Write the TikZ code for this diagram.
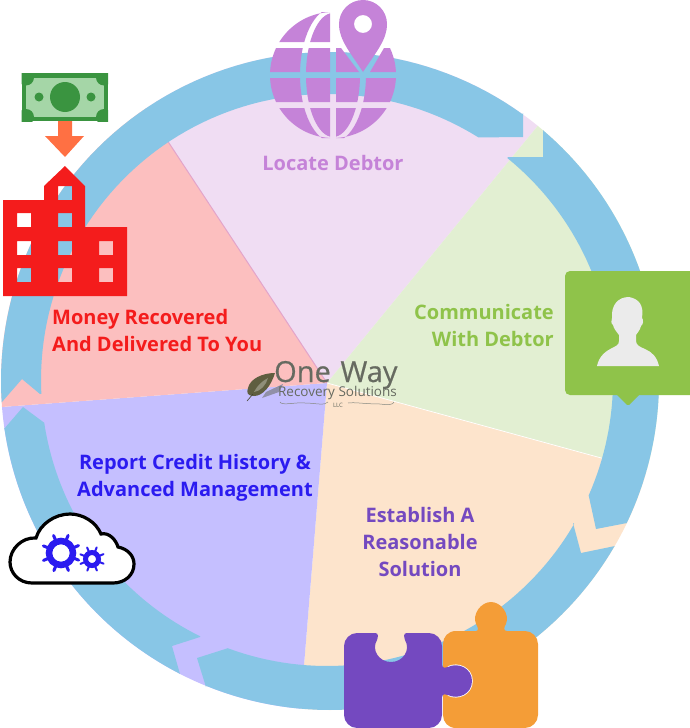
\documentclass[tikz,border=0pt]{standalone}
\usepackage{fontspec}
\setmainfont{Open Sans}
\newfontfamily\logofont[FakeBold=0.5]{Open Sans}
\definecolor{ringc}{HTML}{88C6E6}
\definecolor{slA}{HTML}{F0DDF3}
\definecolor{slB}{HTML}{E2EFD2}
\definecolor{slC}{HTML}{FDE4CC}
\definecolor{slD}{HTML}{C5BFFF}
\definecolor{slE}{HTML}{FCBFBF}
\definecolor{txA}{HTML}{C583D8}
\definecolor{txB}{HTML}{8FC34A}
\definecolor{txC}{HTML}{7449C0}
\definecolor{txD}{HTML}{2B1BF0}
\definecolor{txE}{HTML}{F41C1C}
\definecolor{moneyd}{HTML}{3A9440}
\definecolor{moneyl}{HTML}{A5D6A7}
\definecolor{arrowc}{HTML}{FF7043}
\definecolor{orangep}{HTML}{F49D37}
\definecolor{logoc}{HTML}{666A60}
\definecolor{leafc}{HTML}{5F5E40}
\tikzset{
  seg/.style={fill=ringc,draw=none},
  lab/.style={font=\bfseries\fontsize{20}{27}\selectfont,inner sep=0pt},
  logotext/.style={inner sep=0pt,anchor=base,text=logoc},
}
\begin{document}
\begin{tikzpicture}[x=1pt,y=-1pt]
\useasboundingbox (0,0) rectangle (690,728);
\coordinate (C) at (327,383);
% slices
\begin{scope}
\clip (330,381) circle (329);
\fill[slA] (C) -- (55,-30) -- (663,-27) -- cycle;
\fill[slB] (C) -- (663,-27) -- (760,-27) -- (760,488) -- (711,488) -- cycle;
\fill[slC] (C) -- (711,488) -- (760,488) -- (760,776) -- (295,776) -- cycle;
\fill[slD] (C) -- (295,776) -- (-94,776) -- (-94,414) -- cycle;
\fill[slE] (C) -- (-94,414) -- (-94,-30) -- (55,-30) -- cycle;
\draw[white,line width=0.7] (C) -- (711,488);
\draw[color=txA!45!slE,line width=1] (C) -- (167,140);
\end{scope}
% ring segments
\fill[seg] (2,402) -- (22,379) -- (40,394)
  -- plot[domain=177.2:302,samples=70] ({327+286*cos(\x)},{380+286*sin(\x)})
  -- (523,137) -- (523,113)
  -- plot[domain=305.8:176.3,samples=70] ({330+329*cos(\x)},{381+329*sin(\x)}) -- cycle;
\fill[seg] (543,130) -- (543,157) -- (508,157)
  -- plot[domain=-50.9:23.8,samples=50] ({327+286*cos(\x)},{380+286*sin(\x)})
  -- (596,529) -- (627,523)
  -- plot[domain=25.6:-49.7,samples=50] ({330+329*cos(\x)},{381+329*sin(\x)}) -- cycle;
\fill[seg] (615,546) -- (581,553) -- (573,523)
  -- plot[domain=30.2:110.3,samples=50] ({327+286*cos(\x)},{380+286*sin(\x)})
  -- (197,658) -- (206,687)
  -- plot[domain=112.1:30.1,samples=50] ({330+329*cos(\x)},{381+329*sin(\x)}) -- cycle;
\fill[seg] (180,674) -- (172,646) -- (200,637)
  -- plot[domain=116.3:171.4,samples=40] ({327+286*cos(\x)},{380+286*sin(\x)})
  -- (23,407) -- (4,429)
  -- plot[domain=171.6:117.1,samples=40] ({330+329*cos(\x)},{381+329*sin(\x)}) -- cycle;
% labels
\node[lab,text=txA] (locate) at (333,163) {Locate Debtor};
\node[lab,text=txB,align=right,anchor=east] (comm) at (554,325) {Communicate\\With Debtor};
\node[lab,text=txC,align=center] (estab) at (420,541.5) {Establish A\\Reasonable\\Solution};
\node[lab,text=txD,align=center] (report) at (195,477.5) {Report Credit History \&\\Advanced Management};
\node[lab,text=txE,align=left,anchor=west] (money) at (52,330) {Money Recovered\\And Delivered To You};
% logo
\fill[color=logoc!55!slD] (266,392) -- (283,384) -- (279,392) -- (262,398) -- cycle;
\fill[leafc] (275,373) .. controls (262,373) and (250,379) .. (248,388) .. controls (246,393) and (248,396) .. (254,396)
  .. controls (263,396) and (271,386) .. (275,373) -- cycle;
\fill[leafc!70!white] (268,378) .. controls (262,381) and (257,386) .. (254,392) .. controls (261,391) and (266,385) .. (268,378) -- cycle;
\draw[leafc!70!black,line width=0.6] (253,394) -- (247,401);
\node[logotext,font=\logofont\fontsize{29}{29}\selectfont] (one) at (302.5,382) {One};
\node[logotext,font=\logofont\fontsize{29}{29}\selectfont] (way) at (369,382) {Way};
\node[logotext,font=\fontsize{13.5}{14}\selectfont] (recov) at (337.5,396.5) {Recovery Solutions};
\node[logotext,font=\fontsize{6}{6}\selectfont] (llc) at (338,407) {LLC};
\draw[logoc!80!white,line width=0.5] (280,402) .. controls (282,406) and (295,402) .. (305,403) .. controls (315,403) and (325,406) .. (328,402);
\draw[logoc!80!white,line width=0.5] (348,403) .. controls (355,402) and (365,404) .. (380,404) .. controls (388,405) and (393,405) .. (394,402);
% globe
\begin{scope}
\clip (270,12) rectangle (330,42) (270,48) rectangle (330,72) (336,48) -- (341,48) -- (359,72) -- (336,72) -- cycle
  (384,48) -- (396,48) -- (396,72) -- (370,72) -- cycle
  (270,78) rectangle (330,102) (336,78) rectangle (396,102) (270,108) rectangle (330,138) (336,108) rectangle (396,138);
\fill[txA,even odd rule] (333,75) circle (63) (333,75) ellipse [x radius=33,y radius=67];
\fill[txA] (333,75) ellipse [x radius=27,y radius=62];
\end{scope}
\fill[txA,even odd rule] (363,72) .. controls (350,52) and (339,40) .. (339,24) .. controls (339,10.7) and (349.7,0) .. (363,0)
  .. controls (376.3,0) and (387,10.7) .. (387,24) .. controls (387,40) and (376,52) .. (363,72) -- cycle
  (363,24) circle (9);
% money
\fill[moneyd] (21.5,73) rectangle (108,121);
\fill[moneyl] (26,77.5) rectangle (104,117);
\begin{scope}
\clip (21.5,73) rectangle (108,121);
\fill[moneyd] (26,77.5) circle (8) (104,77.5) circle (8) (26,117) circle (8) (104,117) circle (8);
\end{scope}
\fill[moneyd] (65,97) circle (15) (39,97) circle (4.5) (91,97) circle (4.5);
\fill[arrowc] (58,121) -- (72,121) -- (72,136) -- (84,136) -- (65,157) -- (45,136) -- (58,136) -- cycle;
% building
\fill[txE,even odd rule] (3,200) -- (44,200) -- (44,186) -- (65,166) -- (85,186) -- (85,227) -- (127,227) -- (127,296) -- (3,296) -- cycle
  (58,186) rectangle (72,200)
  (17,213) rectangle (31,227) (58,213) rectangle (72,227)
  (17,241) rectangle (31,255) (58,241) rectangle (72,255) (99,241) rectangle (113,255)
  (17,268) rectangle (31,282) (58,268) rectangle (72,282) (99,268) rectangle (113,282);
% person card
\fill[txB,rounded corners=5] (565,271) rectangle (695,395);
\fill[txB,rounded corners=1.5] (616,394) -- (628,406) -- (640,394) -- cycle;
\fill[color=black!8] (597,366) .. controls (599,356) and (606,351) .. (612,348) .. controls (616,346) and (619,345) .. (619,341)
  -- (619,335) .. controls (616,331) and (614,329) .. (613,325) .. controls (611,324) and (611,320) .. (612,318)
  .. controls (611,305) and (618,297) .. (629,297) .. controls (639,299) and (644,305) .. (642,318)
  .. controls (644,320) and (643,325) .. (641,326) .. controls (640,330) and (638,332) .. (636,335)
  -- (636,341) .. controls (636,345) and (640,347) .. (645,349) .. controls (652,352) and (657,357) .. (659,366) -- cycle;
% puzzle
\fill[orangep] (456,631) -- (476,631) .. controls (479,631) and (478,627) .. (476,624) .. controls (472,614) and (481,602) .. (491,602)
  .. controls (501,602) and (510,614) .. (506,624) .. controls (504,627) and (503,631) .. (507,631) -- (525,631)
  .. controls (532,631) and (538,637) .. (538,644) -- (538,715) .. controls (538,722) and (532,728) .. (525,728) -- (456,728)
  .. controls (448,728) and (443,722) .. (443,715) -- (443,644) .. controls (443,637) and (448,631) .. (456,631) -- cycle;
\draw[white,line width=1.6] (448,667) .. controls (458,662) and (472,668) .. (472,681) .. controls (472,694) and (458,700) .. (448,695);
\fill[txC] (357,633) -- (375,633) .. controls (379,633) and (378,637) .. (377,640) .. controls (371,650) and (379,662) .. (391,662)
  .. controls (403,662) and (411,650) .. (405,640) .. controls (404,637) and (403,633) .. (407,633) -- (429,633)
  .. controls (436,633) and (442,639) .. (442,646) -- (442,664) .. controls (442,669) and (446,668) .. (448,667)
  .. controls (458,662) and (472,668) .. (472,681) .. controls (472,694) and (458,700) .. (448,695) .. controls (446,694) and (442,693) .. (442,698)
  -- (442,715) .. controls (442,722) and (436,728) .. (429,728) -- (357,728) .. controls (350,728) and (344,722) .. (344,715)
  -- (344,646) .. controls (344,639) and (350,633) .. (357,633) -- cycle;
% cloud
\draw[fill=white,draw=black,line width=3.2] (32,583) .. controls (19,583) and (10,573) .. (10,562) .. controls (10,549) and (22,537) .. (36,538)
  .. controls (40,524) and (55,514) .. (70,514) .. controls (83,514) and (96,522) .. (101,534)
  .. controls (109,532) and (116,540) .. (118,547) .. controls (128,549) and (134,556) .. (134,564)
  .. controls (134,575) and (125,583) .. (113,583) -- cycle;
\draw[txD,line width=6.5] (61,553) circle (12);
\foreach \a in {0,45,...,315}{
  \draw[txD,line width=3,line cap=round] ({61+14*cos(\a+22)},{553+14*sin(\a+22)}) -- ({61+19*cos(\a+22)},{553+19*sin(\a+22)});
}
\draw[txD,line width=5] (92,559) circle (6.5);
\foreach \a in {0,45,...,315}{
  \draw[txD,line width=2,line cap=round] ({92+8*cos(\a+22)},{559+8*sin(\a+22)}) -- ({92+12.5*cos(\a+22)},{559+12.5*sin(\a+22)});
}
\end{tikzpicture}
\end{document}
